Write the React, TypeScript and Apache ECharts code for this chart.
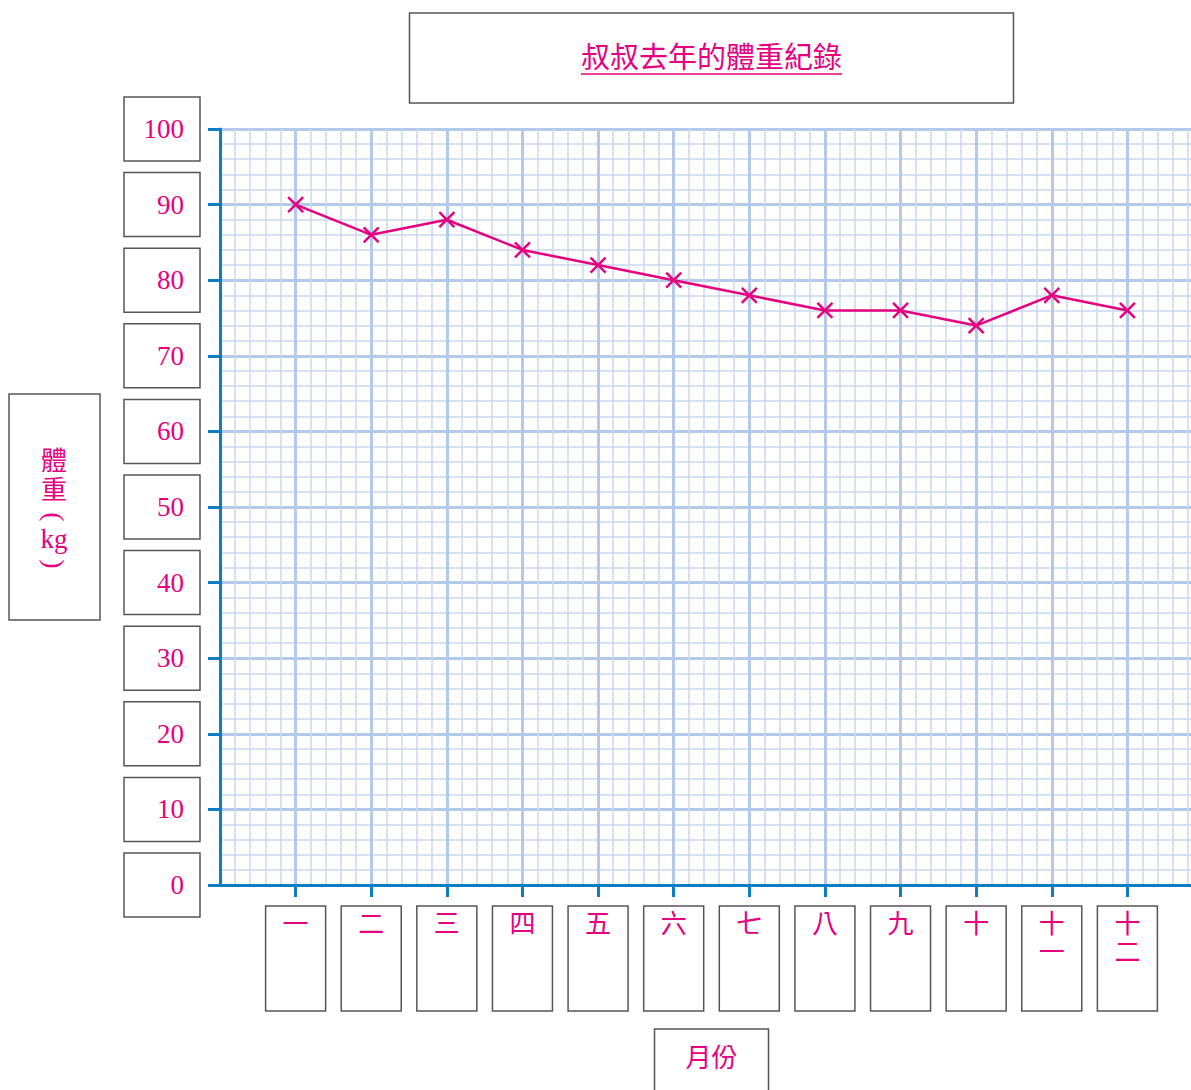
import React, { useEffect, useRef } from 'react';
import * as echarts from 'echarts';

const months = ['一', '二', '三', '四', '五', '六', '七', '八', '九', '十', '十一', '十二'];
const weights = [90, 86, 88, 84, 82, 80, 78, 76, 76, 74, 78, 76];
const yTicks = [0, 10, 20, 30, 40, 50, 60, 70, 80, 90, 100];
const titleText = '叔叔去年的體重紀錄';
const yNameMain = '體\n重';
const yNameUnit = 'kg';
const xNameText = '月份';

const PINK = '#e5007f';
const BLUE = '#0b7dc1';
const BOX = '#555555';
const MAJOR = '#b4c9ea';
const MINOR = '#c9d8f0';
const FONT = "'Liberation Serif', 'Noto Sans CJK TC', serif";

export default function App() {
  const ref = useRef<HTMLDivElement>(null);
  useEffect(() => {
    const chart = echarts.init(ref.current!, undefined, { renderer: 'svg' });
    const monthValues = months.map((_, i) => i + 1);
    chart.setOption({
      animation: false,
      backgroundColor: '#ffffff',
      grid: { left: 220, top: 129, right: 0, height: 756 },
      xAxis: {
        type: 'value',
        min: 0,
        max: 13,
        interval: 1,
        axisLine: { show: true, onZero: false, lineStyle: { color: BLUE, width: 3 } },
        axisTick: { show: true, customValues: monthValues, length: 12, lineStyle: { color: BLUE, width: 3 } },
        axisLabel: {
          customValues: monthValues,
          formatter: (v: number) => {
            const m = months[Math.round(v) - 1];
            return m ? m.split('').join('\n') : '';
          },
          color: PINK,
          fontSize: 26,
          lineHeight: 28,
          fontFamily: FONT,
          margin: 25,
          verticalAlign: 'top',
        },
        splitLine: { show: true, lineStyle: { color: MAJOR, width: 3 } },
        minorTick: { show: false, splitNumber: 5 },
        minorSplitLine: { show: true, lineStyle: { color: MINOR, width: 1.5 } },
      },
      yAxis: {
        type: 'value',
        min: 0,
        max: 100,
        interval: 10,
        axisLine: { show: true, lineStyle: { color: BLUE, width: 3 } },
        axisTick: { show: true, length: 12, lineStyle: { color: BLUE, width: 3 } },
        axisLabel: { color: PINK, fontSize: 27, fontFamily: FONT, margin: 36 },
        splitLine: { show: true, lineStyle: { color: MAJOR, width: 3 } },
        minorTick: { show: false, splitNumber: 5 },
        minorSplitLine: { show: true, lineStyle: { color: MINOR, width: 1.5 } },
      },
      series: [
        {
          type: 'line',
          data: weights.map((w, i) => [i + 1, w]),
          symbol: 'path://M0 0L10 10M10 0L0 10',
          symbolSize: 15,
          lineStyle: { color: PINK, width: 2.5 },
          itemStyle: { color: PINK, borderColor: PINK, borderWidth: 2.5 },
          z: 5,
        },
      ],
    });

    const p = (x: number, y: number) => chart.convertToPixel({ gridIndex: 0 }, [x, y]) as number[];
    const [x0, y0] = p(0, 0);
    const [cx] = p(6.5, 0);
    const [, cy] = p(0, 50);
    const boxStyle = { fill: 'none', stroke: BOX, lineWidth: 1.5 };
    const elements: any[] = [];

    yTicks.forEach((t) => {
      const [, py] = p(0, t);
      elements.push({ type: 'rect', shape: { x: x0 - 96, y: py - 32, width: 76, height: 64 }, style: boxStyle, silent: true });
    });
    monthValues.forEach((m) => {
      const [px] = p(m, 0);
      elements.push({ type: 'rect', shape: { x: px - 30, y: y0 + 21, width: 60, height: 105 }, style: boxStyle, silent: true });
    });
    // title
    elements.push({ type: 'rect', shape: { x: cx - 302, y: 13, width: 604, height: 90 }, style: boxStyle, silent: true });
    elements.push({
      type: 'text',
      x: cx,
      y: 58,
      style: { text: titleText, fontSize: 29, fontFamily: FONT, fill: PINK, align: 'center', verticalAlign: 'middle' },
      silent: true,
    });
    const half = (titleText.length * 29) / 2;
    elements.push({ type: 'line', shape: { x1: cx - half, y1: 74, x2: cx + half, y2: 74 }, style: { stroke: PINK, lineWidth: 1.5 }, silent: true });
    // x name
    elements.push({ type: 'rect', shape: { x: cx - 57, y: 1029, width: 114, height: 80 }, style: boxStyle, silent: true });
    elements.push({
      type: 'text',
      x: cx,
      y: 1058,
      style: { text: xNameText, fontSize: 26, fontFamily: FONT, fill: PINK, align: 'center', verticalAlign: 'middle' },
      silent: true,
    });
    // y name
    const nx = x0 - 166;
    elements.push({ type: 'rect', shape: { x: x0 - 211, y: cy - 113, width: 91, height: 226 }, style: boxStyle, silent: true });
    elements.push({
      type: 'text',
      x: nx,
      y: cy - 31,
      style: { text: yNameMain, fontSize: 26, lineHeight: 29, fontFamily: FONT, fill: PINK, align: 'center', verticalAlign: 'middle' },
      silent: true,
    });
    elements.push({
      type: 'text',
      x: nx,
      y: cy + 10,
      rotation: -Math.PI / 2,
      style: { text: '(', fontSize: 28, fontFamily: FONT, fill: PINK, align: 'center', verticalAlign: 'middle' },
      silent: true,
    });
    elements.push({
      type: 'text',
      x: nx,
      y: cy + 32,
      style: { text: yNameUnit, fontSize: 27, fontFamily: FONT, fill: PINK, align: 'center', verticalAlign: 'middle' },
      silent: true,
    });
    elements.push({
      type: 'text',
      x: nx,
      y: cy + 57,
      rotation: -Math.PI / 2,
      style: { text: ')', fontSize: 28, fontFamily: FONT, fill: PINK, align: 'center', verticalAlign: 'middle' },
      silent: true,
    });

    chart.setOption({ graphic: elements });
    return () => chart.dispose();
  }, []);
  return (
    <div style={{ position: 'absolute', left: 0, top: 0, width: 1191, height: 1090, overflow: 'hidden', background: '#fff' }}>
      <div ref={ref} style={{ width: 1203, height: 1090 }} />
    </div>
  );
}
